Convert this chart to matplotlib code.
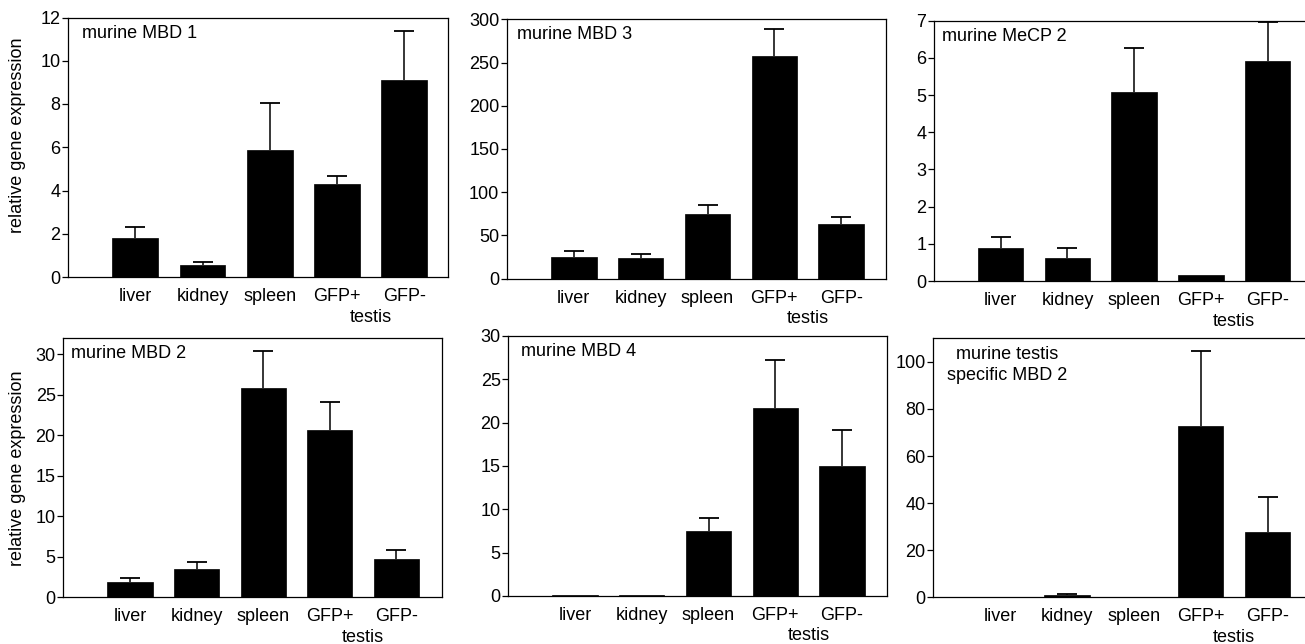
import matplotlib
matplotlib.use("Agg")
import matplotlib.pyplot as plt

plt.rcParams['font.family'] = ['Liberation Sans', 'DejaVu Sans']

tissues = ["liver", "kidney", "spleen", "GFP+", "GFP-"]

mbd1_mean = [1.79, 0.55, 5.88, 4.29, 9.09]
mbd1_err = [0.51, 0.16, 2.17, 0.40, 2.27]

mbd3_mean = [25.1, 24.3, 74.8, 257.9, 63.6]
mbd3_err = [6.9, 3.9, 10.8, 30.5, 8.1]

mecp2_mean = [0.88, 0.63, 5.07, 0.15, 5.91]
mecp2_err = [0.29, 0.27, 1.20, 0.0, 1.05]

mbd2_mean = [1.93, 3.46, 25.9, 20.65, 4.69]
mbd2_err = [0.49, 0.94, 4.5, 3.42, 1.19]

mbd4_mean = [0.08, 0.08, 7.5, 21.73, 15.04]
mbd4_err = [0.0, 0.0, 1.5, 5.47, 4.15]

tsmbd2_mean = [0.0, 0.85, 0.0, 72.9, 27.8]
tsmbd2_err = [0.0, 0.4, 0.0, 31.8, 14.8]

W, H = 1305, 644
fig = plt.figure(figsize=(W / 100, H / 100), dpi=100)

panels = [
    ("murine MBD 1", mbd1_mean, mbd1_err, 12, list(range(0, 13, 2)), [68, 17.5, 448, 277], 5.65, (14, -16), -0.11, 'left'),
    ("murine MBD 3", mbd3_mean, mbd3_err, 300, list(range(0, 301, 50)), [507, 19.3, 886, 278.7], 5.67, (10, -15), None, 'left'),
    ("murine MeCP 2", mecp2_mean, mecp2_err, 7, list(range(0, 8)), [934, 20.7, 1305, 281], 5.56, (8, -16), None, 'left'),
    ("murine MBD 2", mbd2_mean, mbd2_err, 32, list(range(0, 31, 5)), [63.3, 338.3, 441.7, 597.3], 5.68, (8, -15), -0.099, 'left'),
    ("murine MBD 4", mbd4_mean, mbd4_err, 30, list(range(0, 31, 5)), [508.3, 336, 886.7, 596], 5.67, (13, -16), None, 'left'),
    ("murine testis\nspecific MBD 2", tsmbd2_mean, tsmbd2_err, 110, list(range(0, 101, 20)), [933.3, 338.3, 1305, 597.3], 5.56, (74, -8), None, 'center'),
]

FS = 13
x = [1, 2, 3, 4, 5]
for (title, means, errs, ytop, yticks, box, xr, toff, ylabx, ha) in panels:
    l, t, r, b = box
    ax = fig.add_axes([l / W, 1 - b / H, (r - l) / W, (b - t) / H])
    ax.bar(x, means, width=0.68, color='black', edgecolor='black', linewidth=0.5, zorder=2)
    ex = [xi for xi, e in zip(x, errs) if e > 0]
    em = [m for m, e in zip(means, errs) if e > 0]
    ee = [e for e in errs if e > 0]
    _, caps, _ = ax.errorbar(ex, em, yerr=[[0] * len(ee), ee], fmt='none', ecolor='black',
                             elinewidth=1.1, capsize=7, capthick=1.3, zorder=1)
    if caps:
        caps[0].set_visible(False)
    ax.set_xlim(0, xr)
    ax.set_ylim(0, ytop)
    ax.set_yticks(yticks)
    ax.set_yticklabels([str(v) for v in yticks], fontsize=FS)
    ax.set_xticks(x)
    ax.set_xticklabels(tissues, fontsize=FS)
    ax.tick_params(axis='x', length=0, pad=8)
    ax.tick_params(axis='y', length=4, width=0.9, direction='out', pad=1.5)
    for s in ax.spines.values():
        s.set_linewidth(0.9)
    if r >= W:
        ax.spines['right'].set_visible(False)
    ax.annotate("testis", xy=(4.5, 0), xycoords=('data', 'axes fraction'),
                xytext=(0, -40), textcoords='offset pixels', ha='center', va='center', fontsize=FS)
    multi = '\n' in title
    ax.annotate(title, xy=(0, 1), xycoords='axes fraction', xytext=toff,
                textcoords='offset pixels', ha=ha, va='top' if multi else 'center',
                multialignment='center', fontsize=FS, linespacing=1.3)
    if ylabx is not None:
        ax.set_ylabel("relative gene expression", fontsize=FS)
        ax.yaxis.set_label_coords(ylabx, 0.547 if t < 100 else 0.5)

fig.savefig("out.png", dpi=100)
